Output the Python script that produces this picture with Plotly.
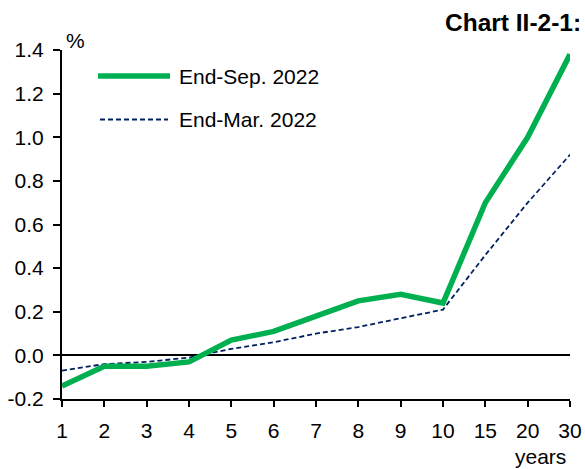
import plotly.graph_objects as go

maturities = ["1", "2", "3", "4", "5", "6", "7", "8", "9", "10", "15", "20", "30"]
end_sep_2022 = [-0.14, -0.05, -0.05, -0.03, 0.07, 0.11, 0.18, 0.25, 0.28, 0.24, 0.70, 1.00, 1.38]
end_mar_2022 = [-0.07, -0.04, -0.03, -0.01, 0.03, 0.06, 0.10, 0.13, 0.17, 0.21, 0.46, 0.70, 0.92]
y_tick_vals = [-0.2, 0.0, 0.2, 0.4, 0.6, 0.8, 1.0, 1.2, 1.4]
y_tick_text = ["-0.2", "0.0", "0.2", "0.4", "0.6", "0.8", "1.0", "1.2", "1.4"]

GREEN = "#00B050"
NAVY = "#002060"
FONT = "Liberation Sans, Arial, sans-serif"
FS = 21

fig = go.Figure()
fig.add_trace(go.Scatter(x=maturities, y=end_mar_2022, mode="lines", name="End-Mar. 2022",
                         line=dict(color=NAVY, width=1.8, dash="5px,3px"), showlegend=False))
fig.add_trace(go.Scatter(x=maturities, y=end_sep_2022, mode="lines", name="End-Sep. 2022",
                         line=dict(color=GREEN, width=5.5), showlegend=False))

# custom legend
fig.add_shape(type="line", xref="paper", yref="paper", x0=0.0709, x1=0.2126, y0=0.9255, y1=0.9255,
              line=dict(color=GREEN, width=5.5))
fig.add_shape(type="line", xref="paper", yref="paper", x0=0.0748, x1=0.2087, y0=0.8009, y1=0.8009,
              line=dict(color=NAVY, width=1.8, dash="5px,3px"))
fig.add_annotation(xref="paper", yref="paper", x=0.2264, y=0.9255, text="End-Sep. 2022",
                   showarrow=False, xanchor="left", yanchor="middle", font=dict(size=FS, color="black"))
fig.add_annotation(xref="paper", yref="paper", x=0.2264, y=0.8009, text="End-Mar. 2022",
                   showarrow=False, xanchor="left", yanchor="middle", font=dict(size=FS, color="black"))

fig.add_annotation(xref="paper", yref="paper", x=0.0256, y=1.0258, text="%",
                   showarrow=False, xanchor="center", yanchor="middle", font=dict(size=FS, color="black"))
fig.add_annotation(xref="paper", yref="paper", x=1.0256, y=1.079, text="<b>Chart II-2-1:</b>",
                   showarrow=False, xanchor="right", yanchor="middle", font=dict(size=24.5, color="black"))
fig.add_annotation(xref="paper", yref="paper", x=0.941, y=-0.166, text="years",
                   showarrow=False, xanchor="center", yanchor="middle", font=dict(size=FS, color="black"))

fig.update_layout(
    width=585, height=469,
    margin=dict(l=62, r=15, t=50, b=70, autoexpand=False),
    plot_bgcolor="white", paper_bgcolor="white",
    font=dict(family=FONT, size=FS, color="black"),
    showlegend=False,
)
fig.update_xaxes(type="category", categoryarray=maturities, range=[0, 12], automargin=False,
                 showgrid=False, showline=True, linecolor="black", linewidth=2,
                 ticks="outside", ticklen=6, tickwidth=2, tickcolor="black",
                 ticklabelstandoff=6, zeroline=False)
fig.update_yaxes(range=[-0.2, 1.4], tickvals=y_tick_vals, ticktext=y_tick_text, automargin=False,
                 showgrid=False, showline=True, linecolor="black", linewidth=2,
                 ticks="outside", ticklen=7, tickwidth=2, tickcolor="black",
                 ticklabelstandoff=5,
                 zeroline=True, zerolinecolor="black", zerolinewidth=1.5)

fig.write_html("out.html", config={"displayModeBar": False},
               post_script="document.body.style.margin='0px';document.body.style.overflow='hidden';")
